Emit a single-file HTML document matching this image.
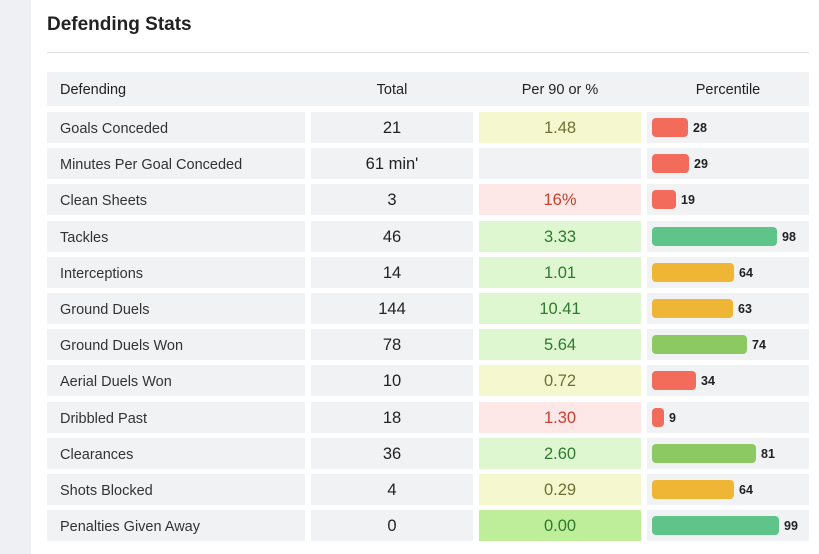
<!DOCTYPE html>
<html><head><style>
body{margin:0;width:819px;height:554px;background:#fff;position:relative;overflow:hidden;font-family:"Liberation Sans",sans-serif;color:#222}
.strip{position:absolute;left:0;top:0;width:31px;height:554px;background:#eef0f3}
h1{position:absolute;left:47px;top:14px;margin:0;font-size:19px;font-weight:bold;color:#222}
.hr{position:absolute;left:47px;top:52px;width:762px;height:1px;background:#dcdde0}
.c{position:absolute;height:31px;line-height:33px;background:#f1f2f4;font-size:15px}
.hd{position:absolute;left:47px;top:72px;width:762px;height:34px;background:#f1f2f4}
.h{position:absolute;top:72px;height:34px;line-height:37px;font-size:14.5px;color:#222}
.l{left:47px;width:258px;padding-left:13px;box-sizing:border-box;font-size:14.5px;color:#333;line-height:35px}
.t{left:311px;width:162px;text-align:center;font-size:16.5px}
.p{left:479px;width:162px;text-align:center;font-size:16.5px}
.q{left:647px;width:162px}
.bar{position:absolute;left:5px;top:6px;height:19px;border-radius:4px}
.n{position:absolute;top:0;line-height:32px;font-size:12.5px;font-weight:bold;color:#222}
.y{background:#f5f7cf;color:#6f7035}.r{background:#fde7e7;color:#c8402f}.g{background:#def7d1;color:#2f7a2f}.G{background:#bfee9a;color:#2f7a2f}
</style></head><body>
<div class="strip"></div>
<h1>Defending Stats</h1>
<div class="hr"></div>
<div class="hd"></div>
<div class="h" style="left:60px">Defending</div>
<div class="h" style="left:311px;width:162px;text-align:center">Total</div>
<div class="h" style="left:479px;width:162px;text-align:center">Per 90 or %</div>
<div class="h" style="left:647px;width:162px;text-align:center">Percentile</div>
<div id="rows"></div>
<script>
var d=[["Goals Conceded","21","1.48","y",28,"#f26b5b"],["Minutes Per Goal Conceded","61 min'","","",29,"#f26b5b"],["Clean Sheets","3","16%","r",19,"#f26b5b"],["Tackles","46","3.33","g",98,"#5fc48a"],["Interceptions","14","1.01","g",64,"#efb535"],["Ground Duels","144","10.41","g",63,"#efb535"],["Ground Duels Won","78","5.64","g",74,"#8cc963"],["Aerial Duels Won","10","0.72","y",34,"#f26b5b"],["Dribbled Past","18","1.30","r",9,"#f26b5b"],["Clearances","36","2.60","g",81,"#8cc963"],["Shots Blocked","4","0.29","y",64,"#efb535"],["Penalties Given Away","0","0.00","G",99,"#5fc48a"]];
var h="";d.forEach(function(r,i){var t=(112+i*36.2).toFixed(1);var w=Math.round(r[4]*1.28);
h+='<div class="c l" style="top:'+t+'px">'+r[0]+'</div><div class="c t" style="top:'+t+'px">'+r[1]+'</div><div class="c p '+r[3]+'" style="top:'+t+'px">'+r[2]+'</div><div class="c q" style="top:'+t+'px"><div class="bar" style="width:'+w+'px;background:'+r[5]+'"></div><div class="n" style="left:'+(w+10)+'px">'+r[4]+'</div></div>';});
document.getElementById("rows").innerHTML=h;
</script>
</body></html>
